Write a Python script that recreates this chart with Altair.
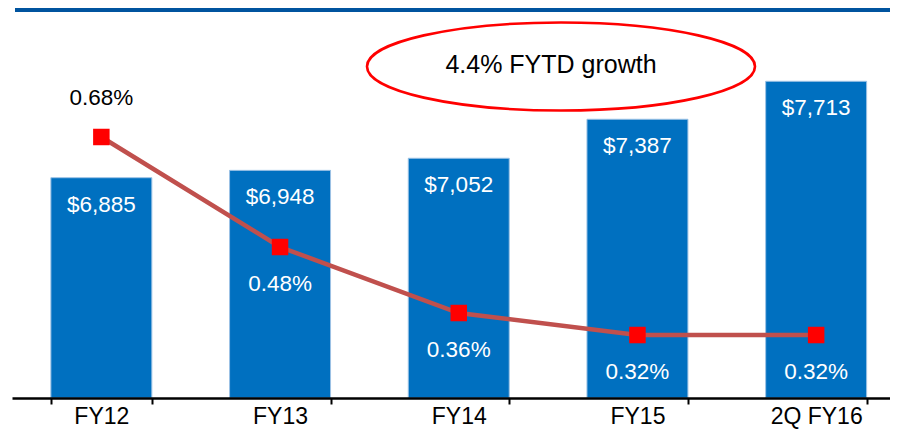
import altair as alt
import pandas as pd

# ---- data ----
categories = ["FY12", "FY13", "FY14", "FY15", "2Q FY16"]
revenue = [6885, 6948, 7052, 7387, 7713]
revenue_labels = ["$6,885", "$6,948", "$7,052", "$7,387", "$7,713"]
rate = [0.68, 0.48, 0.36, 0.32, 0.32]
rate_labels = ["0.68%", "0.48%", "0.36%", "0.32%", "0.32%"]
callout = ["4.4% FYTD growth"]

BAR_DOMAIN = [4993, 8342.5]
RATE_DOMAIN = [0.2055, 0.9145]

FONT = "Liberation Sans, Arial, sans-serif"
BAR_BLUE = "#0070C0"
LINE_RED = "#C0504D"
MARK_RED = "#FF0000"

df = pd.DataFrame({
    "cat": categories,
    "rev": revenue,
    "rev_label": revenue_labels,
    "rate": rate,
    "rate_label": rate_labels,
})
note = pd.DataFrame({"t": callout})

x = alt.X(
    "cat:N",
    sort=categories,
    scale=alt.Scale(range=[0, 893.5], paddingInner=0.435, paddingOuter=0.2175),
    axis=alt.Axis(
        title=None, labelAngle=0, labelFont=FONT, labelFontSize=23,
        labelColor="black", labelBaseline="alphabetic", labelPadding=19.5,
        tickSize=6, tickWidth=2, tickColor="black", tickBand="extent",
        domainColor="black", domainWidth=2.5, grid=False, zindex=1,
    ),
)

y_bar = alt.Y("rev:Q", scale=alt.Scale(domain=BAR_DOMAIN, zero=False, nice=False), axis=None)
y_rate = alt.Y("rate:Q", scale=alt.Scale(domain=RATE_DOMAIN, zero=False, nice=False), axis=None)

base = alt.Chart(df).encode(x=x)

bars = base.mark_bar(color=BAR_BLUE, stroke="#9CC2E5", strokeWidth=1).encode(
    y=y_bar, y2=alt.datum(BAR_DOMAIN[0])
)
bar_text = base.mark_text(
    color="white", font=FONT, fontSize=22.5, baseline="alphabetic", dy=34
).encode(y=y_bar, text="rev_label:N")

line = base.mark_line(color=LINE_RED, strokeWidth=4.5).encode(y=y_rate)
points = base.mark_point(
    shape="square", filled=True, color=MARK_RED, size=272, opacity=1, strokeWidth=0
).encode(y=y_rate)

rate_above = base.transform_filter(alt.datum.cat == "FY12").mark_text(
    color="black", font=FONT, fontSize=22.5, baseline="alphabetic", dy=-32
).encode(y=y_rate, text="rate_label:N")
rate_below = base.transform_filter(alt.datum.cat != "FY12").mark_text(
    color="white", font=FONT, fontSize=22.5, baseline="alphabetic", dy=43.5
).encode(y=y_rate, text="rate_label:N")

band = alt.Chart(note).mark_rule(color="#00549F", strokeWidth=4).encode(
    x=alt.value(3), x2=alt.value(900), y=alt.value(2)
)

ELLIPSE = "M-1,0A1,0.2268,0,1,1,1,0A1,0.2268,0,1,1,-1,0Z"
ellipse = alt.Chart(note).mark_point(
    shape=ELLIPSE, size=150544, filled=False, stroke=MARK_RED, strokeWidth=2.6, opacity=1
).encode(x=alt.value(549), y=alt.value(58.5))
ellipse_text = alt.Chart(note).mark_text(
    font=FONT, fontSize=25, color="black", baseline="alphabetic", align="center"
).encode(x=alt.value(539), y=alt.value(65.3), text="t:N")

chart = (
    alt.layer(bars, bar_text, line, points, rate_above, rate_below, band, ellipse, ellipse_text)
    .resolve_scale(y="independent")
    .properties(
        width=878, height=390, autosize="none",
        padding={"left": 4, "top": 0, "right": 0, "bottom": 31},
        background="white",
    )
    .configure_view(stroke=None)
)

chart.save("out.html", embed_options={"renderer": "svg", "actions": False})
